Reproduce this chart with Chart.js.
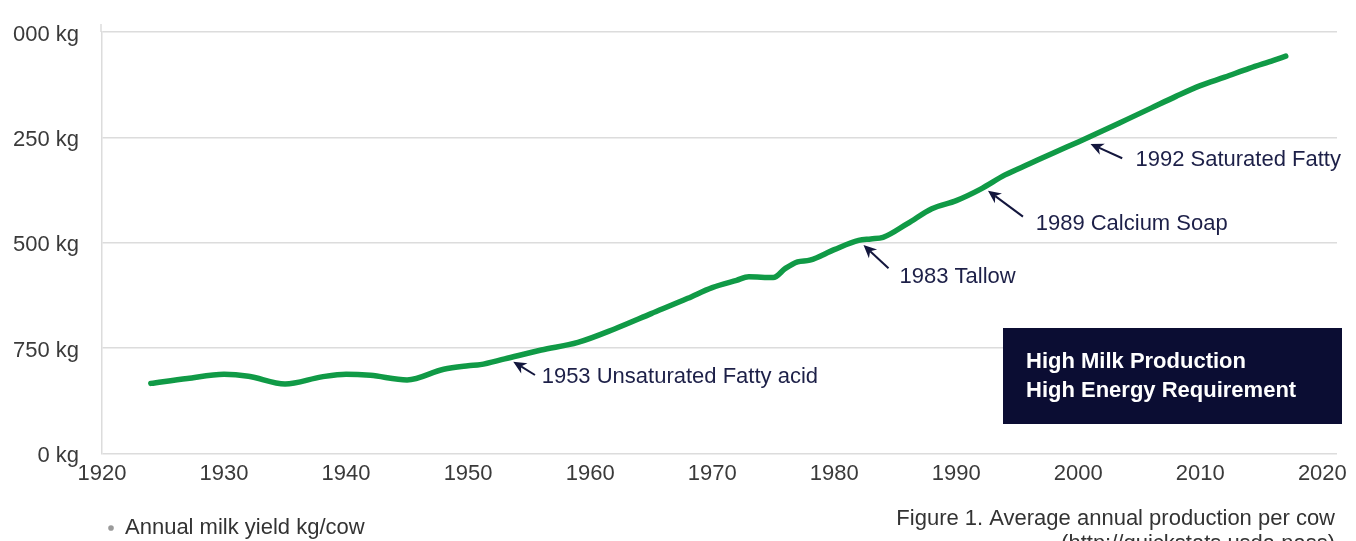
<!DOCTYPE html>
<html>
<head>
<meta charset="utf-8">
<script src="https://cdn.jsdelivr.net/npm/chart.js@4.4.1/dist/chart.umd.min.js"></script>
<style>
html,body{margin:0;padding:0;overflow:hidden;background:#fff;width:1356px;height:541px}
canvas{display:block}
</style>
</head>
<body>
<canvas id="c" width="1356" height="560"></canvas>
<script>
// ---- data ----
const years = [1924,1927,1930,1932,1935,1938,1940,1942,1945,1948,1950,1951,1953,1956,1959,1962,1965,1968,1970,1972,1973,1975,1976,1977,1978,1980,1982,1983,1984,1986,1988,1990,1992,1994,1996,1998,2000,2002,2004,2006,2008,2010,2012,2014,2016,2017];
const milkYieldKg = [1830,1960,2065,2015,1815,2000,2070,2040,1920,2200,2290,2320,2470,2700,2900,3250,3650,4050,4330,4520,4610,4590,4830,5000,5045,5320,5560,5600,5640,6000,6390,6600,6900,7270,7560,7850,8130,8420,8720,9020,9320,9600,9820,10050,10260,10370];
const seriesLabel = 'Annual milk yield kg/cow';

const xTickYears = [1920,1930,1940,1950,1960,1970,1980,1990,2000,2010,2020];
const yTickValues = [0,2750,5500,8250,11000];
const yTickLabels = ['0 kg','750 kg','500 kg','250 kg','000 kg'];

const noteLabels = ['1953 Unsaturated Fatty acid','1983 Tallow','1989 Calcium Soap','1992 Saturated Fatty'];
const noteYears  = [1953.7, 1982.4, 1992.6, 2001.0];
const noteValues = [2396, 5441, 6859, 8078];

const boxLines = ['High Milk Production','High Energy Requirement'];
const captionLines = ['Figure 1. Average annual production per cow','(http://quickstats.usda.nass)'];

// ---- styling ----
const FONT = "'Liberation Sans', Arial, Helvetica, sans-serif";
const GRID = '#dcdcdc';
const NAVY = '#13163d';

const notesPlugin = {
  id: 'notes',
  beforeDatasetsDraw(chart) {
    // small extension of the vertical axis line above the plot, as in the reference
    const {ctx, chartArea} = chart;
    ctx.save();
    ctx.strokeStyle = GRID; ctx.lineWidth = 1.5;
    ctx.beginPath();
    ctx.moveTo(chartArea.left - 1, chartArea.top - 8);
    ctx.lineTo(chartArea.left - 1, chartArea.top);
    ctx.stroke();
    ctx.restore();
  },
  afterDatasetsDraw(chart) {
    const {ctx, chartArea} = chart;
    const xs = chart.scales.x, ys = chart.scales.y;
    const tailOff = [[21.7,13.3],[25,23.3],[35,26],[31.7,14.3]];
    const textOff = [[28.4,15],[36,32.3],[47.7,33.3],[45,16]];
    ctx.save();
    noteLabels.forEach((t, i) => {
      const tx = xs.getPixelForValue(noteYears[i]);
      const ty = ys.getPixelForValue(noteValues[i]);
      const ex = tx + tailOff[i][0], ey = ty + tailOff[i][1];
      const ang = Math.atan2(ty - ey, tx - ex);
      const c = Math.cos(ang), s = Math.sin(ang);
      const headLen = 13, headW = 6;
      const bx = tx - headLen * c, by = ty - headLen * s;
      const nx = tx - headLen * 0.7 * c, ny = ty - headLen * 0.7 * s;
      ctx.strokeStyle = NAVY; ctx.lineWidth = 2;
      ctx.beginPath(); ctx.moveTo(ex, ey); ctx.lineTo(nx, ny); ctx.stroke();
      ctx.fillStyle = NAVY;
      ctx.beginPath();
      ctx.moveTo(tx, ty);
      ctx.lineTo(bx - headW * s, by + headW * c);
      ctx.lineTo(nx, ny);
      ctx.lineTo(bx + headW * s, by - headW * c);
      ctx.closePath(); ctx.fill();
      ctx.fillStyle = '#1d2048';
      ctx.font = '22px ' + FONT;
      ctx.textAlign = 'left'; ctx.textBaseline = 'middle';
      ctx.fillText(t, tx + textOff[i][0], ty + textOff[i][1]);
    });
    // dark info box
    const bl = chartArea.right - 334, bt = chartArea.top + 296;
    ctx.fillStyle = '#0b0d33';
    ctx.fillRect(bl, bt, 339, 96);
    ctx.fillStyle = '#ffffff';
    ctx.font = 'bold 22px ' + FONT;
    ctx.textAlign = 'left'; ctx.textBaseline = 'middle';
    boxLines.forEach((l, i) => ctx.fillText(l, bl + 23, bt + 34 + i * 28.5));
    ctx.restore();
  },
  afterDraw(chart) {
    const {ctx, chartArea} = chart;
    ctx.save();
    ctx.fillStyle = '#333333';
    ctx.font = '22px ' + FONT;
    ctx.textAlign = 'right'; ctx.textBaseline = 'alphabetic';
    captionLines.forEach((l, i) => ctx.fillText(l, chartArea.right - 2, 525 + i * 25));
    ctx.restore();
  }
};

new Chart(document.getElementById('c'), {
  type: 'line',
  data: {
    datasets: [{
      label: seriesLabel,
      data: years.map((yr, i) => ({x: yr, y: milkYieldKg[i]})),
      borderColor: '#109a46',
      backgroundColor: '#109a46',
      borderWidth: 5.5,
      pointRadius: 0,
      fill: false,
      cubicInterpolationMode: 'monotone',
      borderCapStyle: 'round',
      borderJoinStyle: 'round'
    }]
  },
  options: {
    responsive: false,
    animation: false,
    devicePixelRatio: 1,
    layout: { padding: { top: 32, left: 0, right: 19, bottom: 11 } },
    plugins: {
      tooltip: { enabled: false },
      legend: {
        position: 'bottom',
        align: 'start',
        fullSize: false,
        labels: {
          padding: 6,
          usePointStyle: true,
          boxWidth: 6,
          boxHeight: 4,
          color: '#333333',
          font: { family: FONT, size: 22 },
          generateLabels: () => [{
            text: seriesLabel, fillStyle: '#9a9a9a', strokeStyle: '#9a9a9a',
            lineWidth: 0, pointStyle: 'circle', hidden: false, datasetIndex: 0, fontColor: '#333333'
          }]
        }
      }
    },
    scales: {
      x: {
        type: 'linear',
        min: 1920,
        max: 2021.2,
        afterBuildTicks: s => { s.ticks = xTickYears.map(v => ({value: v})); },
        afterFit: s => { s.height = 57.5; s.paddingLeft = 0; s.paddingRight = 0; },
        grid: { display: false, drawTicks: false },
        border: { display: false },
        ticks: {
          padding: 7, maxRotation: 0, autoSkip: false,
          callback: v => String(v),
          color: '#3a3a3a',
          font: { family: FONT, size: 22 }
        }
      },
      y: {
        min: 0,
        max: 11000,
        afterBuildTicks: s => { s.ticks = yTickValues.map(v => ({value: v})); },
        afterFit: s => { s.width = 102; s.paddingTop = 0; s.paddingBottom = 0; },
        grid: { color: GRID, lineWidth: 1.5, drawTicks: false },
        border: { color: GRID, width: 1.5 },
        ticks: {
          padding: 23,
          labelOffset: 2.5,
          callback: v => yTickLabels[yTickValues.indexOf(v)],
          color: '#3a3a3a',
          font: { family: FONT, size: 22 }
        }
      }
    }
  },
  plugins: [notesPlugin]
});
</script>
</body>
</html>
